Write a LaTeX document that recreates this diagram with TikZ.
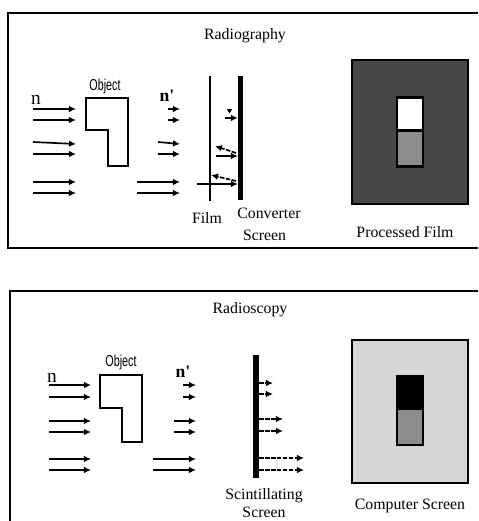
\documentclass[tikz,border=0pt]{standalone}
\usepackage{fontspec}
\setmainfont{Liberation Serif}
\newfontfamily\objfont[FakeStretch=0.68]{Liberation Sans}
\newfontfamily\primefont{Liberation Serif}
\usetikzlibrary{arrows.meta,positioning,calc,shapes.geometric}

\begin{document}
\begin{tikzpicture}[
    x=0.02cm, y=-0.02cm,
    frame/.style={draw, line width=1.2pt},
    ray/.style={-{Latex[length=4pt,width=3.8pt]}, line width=0.95pt},
    lit/.style={ray, dash pattern=on 2.6pt off 0.8pt},
    obj/.style={draw, line width=1.1pt, fill=white},
    lbl/.style={font=\fontsize{9}{9.6}\selectfont, align=center, inner sep=0pt},
    objlbl/.style={font=\objfont\fontsize{9}{10}\selectfont, inner sep=0pt},
    nlbl/.style={font=\primefont\fontsize{11}{12}\selectfont, inner sep=0pt},
    nbold/.style={font=\primefont\bfseries\fontsize{10}{12}\selectfont, inner sep=0pt},
    screen/.style={draw=black, line width=1pt, minimum width=2.32cm, minimum height=2.87cm, inner sep=0pt},
    win/.style={draw=black, line width=1.2pt, minimum width=0.52cm, minimum height=0.66cm, inner sep=0pt},
    stepbox/.style={draw=black, line width=1.2pt, fill=black!45, minimum width=0.52cm, minimum height=0.72cm, inner sep=0pt},
    wall/.style={draw=black, fill=black, inner sep=0pt, minimum width=0.09cm}
]
\useasboundingbox (0,0) rectangle (478,521);

% upper panel
\draw[frame] (478,13) -- (8,13) -- (8,248) -- (478,248);
\node[lbl] (radiography) at (245,36) {Radiography};
\node[objlbl] (objA) at (105,86) {Object};
\node[nlbl] (nA) at (36,100) {n};
\node[nbold] (npA) at (167,96) {n'};
\draw[obj] (86,98) -- (128,98) -- (128,166) -- (108,166) -- (108,130) -- (86,130) -- cycle;

\foreach \i/\ya/\yb in {a/109/109, b/120/120, c/142/144, d/154/154, e/182/182, f/193/193}{
    \coordinate (A\i) at (33,\ya);
    \coordinate (B\i) at (76,\yb);
    \draw[ray] (A\i) -- (B\i);
}
\foreach \i/\xa/\ya/\yb in {a/168/109/109, b/168/120/120, c/158/142/144, d/158/154/154, e/137/182/182, f/137/193/193}{
    \coordinate (C\i) at (\xa,\ya);
    \coordinate (D\i) at (180,\yb);
    \draw[ray] (C\i) -- (D\i);
}

\coordinate (filmtop) at (210,76);
\coordinate (filmbot) at (210,201);
\draw[line width=0.8pt] (filmtop) -- (filmbot);
\node[wall, minimum height=2.46cm] (conv) at (240.5,137.5) {};

\coordinate (p1) at (225,118);
\coordinate (p2) at (216,156);
\coordinate (p3) at (197,184);
\draw[ray] (p1) -- (conv.west |- p1);
\draw[ray] (p2) -- (conv.west |- p2);
\draw[ray] (p3) -- (conv.west |- p3);

\coordinate (e1) at (236,153);
\coordinate (e2) at (215,146);
\coordinate (e3) at (236,181);
\coordinate (e4) at (211,175);
\node[regular polygon, regular polygon sides=3, shape border rotate=180, fill=black, inner sep=0pt, minimum size=0.12cm] (spark) at (229.5,110.5) {};
\draw[lit] (e1) -- (e2);
\draw[lit] (e3) -- (e4);

\node[lbl] (film) at (207,218) {Film};
\node[lbl] (convlbl) at (269,224.5) {Converter\\[2.7pt]Screen\hspace*{5pt}};
\node[screen, fill=black!72] (procfilm) at (410,132) {};
\node[win, fill=white] (winA) at (410,114) {};
\node[stepbox] (stepA) at (410,148.5) {};
\node[lbl] (proclbl) at (405,232) {Processed Film};

% lower panel
\draw[frame] (478,291) -- (10,291) -- (10,521);
\node[lbl] (radioscopy) at (250,310) {Radioscopy};
\node[objlbl] (objB) at (121,362) {Object};
\node[nlbl] (nB) at (52,378) {n};
\node[nbold] (npB) at (183,372) {n'};
\draw[obj] (100,375) -- (142,375) -- (142,442) -- (122,442) -- (122,408) -- (100,408) -- cycle;

\foreach \i/\yy in {a/385, b/397, c/421, d/432, e/459, f/470}{
    \coordinate (E\i) at (49,\yy);
    \coordinate (F\i) at (91,\yy);
    \draw[ray] (E\i) -- (F\i);
}
\foreach \i/\xa/\yy in {a/183/385, b/183/397, c/174/421, d/174/432, e/153/459, f/153/470}{
    \coordinate (G\i) at (\xa,\yy);
    \coordinate (H\i) at (196,\yy);
    \draw[ray] (G\i) -- (H\i);
}

\node[wall, minimum height=2.44cm] (scint) at (256,416) {};
\foreach \i/\xb/\yy in {a/273/383, b/273/394, c/283/419, d/283/431, e/304/458, f/304/470}{
    \coordinate (S\i) at (259,\yy);
    \coordinate (T\i) at (\xb,\yy);
    \draw[lit] (S\i) -- (T\i);
}
\node[lbl] (scintlbl) at (264,503) {Scintillating\\[1pt]Screen};
\node[screen, fill=black!16] (compscr) at (410,411.5) {};
\node[win, fill=black] (winB) at (410,392.5) {};
\node[stepbox] (stepB) at (410,427) {};
\node[lbl] (complbl) at (410,506) {Computer Screen};
\end{tikzpicture}
\end{document}
